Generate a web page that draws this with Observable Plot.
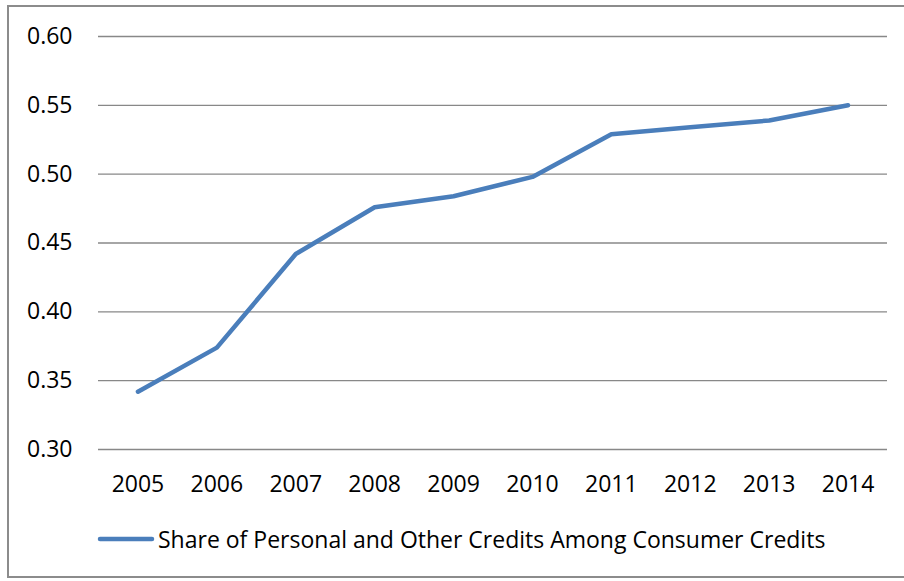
<!DOCTYPE html>
<html>
<head>
<meta charset="utf-8">
<script src="https://cdn.jsdelivr.net/npm/d3@7"></script>
<script src="https://cdn.jsdelivr.net/npm/@observablehq/plot@0.6"></script>
<style>
  html, body { margin: 0; padding: 0; background: #fff; }
  #wrap { position: relative; width: 904px; height: 581px; overflow: hidden; font-family: "Open Sans", sans-serif; }
  #border { position: absolute; left: 7px; top: 5px; width: 920px; height: 573px; border: 2px solid #8c8c8c; box-sizing: border-box; }
  #chart { position: absolute; left: 0; top: 0; }
  #legend { position: absolute; left: 97px; top: 523px; display: flex; align-items: center; font-size: 23px; color: #000; white-space: nowrap; }
  #legend svg { margin-right: 3px; }
</style>
</head>
<body>
<div id="wrap">
  <div id="border"></div>
  <div id="chart"></div>
  <div id="legend"></div>
</div>
<script>
const years = ["2005","2006","2007","2008","2009","2010","2011","2012","2013","2014"];
const shares = [0.342, 0.374, 0.442, 0.476, 0.484, 0.498, 0.529, 0.534, 0.539, 0.550];
const yTicks = [0.30, 0.35, 0.40, 0.45, 0.50, 0.55, 0.60];
const seriesName = "Share of Personal and Other Credits Among Consumer Credits";
const lineColor = "#4a7ebb";

const data = years.map((y, i) => ({year: y, share: shares[i]}));

const chart = Plot.plot({
  width: 904,
  height: 515,
  marginLeft: 98,
  marginRight: 17,
  marginTop: 36,
  marginBottom: 66,
  style: {fontFamily: "Open Sans, sans-serif", fontSize: "23px", color: "#000", background: "transparent"},
  x: {type: "point", domain: years, padding: 0.5, round: false, label: null},
  y: {domain: [0.30, 0.60], label: null},
  marks: [
    Plot.ruleY(yTicks, {stroke: "#888", strokeWidth: 1.4}),
    Plot.axisX({tickSize: 0, tickPadding: 26, label: null, fontSize: 23}),
    Plot.axisY(yTicks, {tickSize: 0, tickPadding: 26, tickFormat: d3.format(".2f"), label: null, fontSize: 23}),
    Plot.line(data, {x: "year", y: "share", stroke: lineColor, strokeWidth: 4.5, strokeLinecap: "round", strokeLinejoin: "round"})
  ]
});
document.getElementById("chart").appendChild(chart);

const leg = document.getElementById("legend");
leg.innerHTML = `<svg width="58" height="10"><line x1="3" y1="5" x2="55" y2="5" stroke="${lineColor}" stroke-width="4.5" stroke-linecap="round"/></svg><span>${seriesName}</span>`;
</script>
</body>
</html>
